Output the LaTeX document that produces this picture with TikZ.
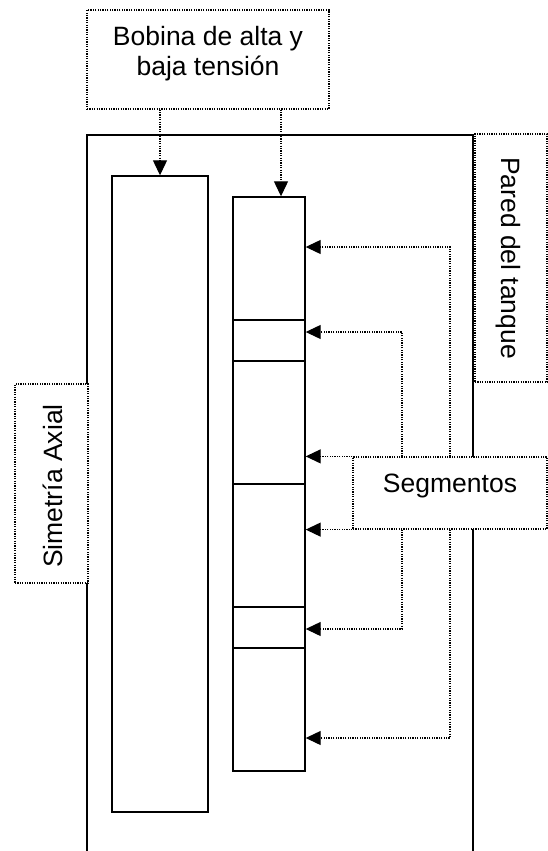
\documentclass[tikz,border=0pt]{standalone}
\usepackage{fontspec}
\setmainfont{Liberation Sans}
\usetikzlibrary{arrows.meta,calc}
\begin{document}
\begin{tikzpicture}[x=1pt,y=-1pt,
  solidbox/.style={draw,line width=1.4pt,fill=white,inner sep=0pt},
  dotbox/.style={draw,line width=1.2pt,dash pattern=on 1.2pt off 1.2pt,fill=white,inner sep=0pt},
  conn/.style={line width=1.2pt,dash pattern=on 1.2pt off 1.2pt,-{Triangle[length=15pt,width=14pt]}},
  lbl/.style={font=\fontsize{26.5}{30}\selectfont,inner sep=0pt},
  wall/.style={line width=1.4pt}]
\useasboundingbox (0,0) rectangle (548,851);
% tank wall
\coordinate (tbl) at (87,851);
\coordinate (ttl) at (87,135);
\coordinate (ttr) at (473,135);
\coordinate (tbr) at (473,851);
\draw[wall] (tbl) -- (ttl) -- (ttr) -- (tbr);
% coils
\node[solidbox,minimum width=96pt,minimum height=636pt] (coilA) at (160,494) {};
\node[solidbox,minimum width=72pt,minimum height=574pt] (coilB) at (269,484) {};
\coordinate (s1) at (0,320);
\coordinate (s2) at (0,361);
\coordinate (s3) at (0,484);
\coordinate (s4) at (0,607);
\coordinate (s5) at (0,648);
\foreach \s in {s1,s2,s3,s4,s5}
  \draw[wall] (coilB.west |- \s) -- (coilB.east |- \s);
% label boxes
\node[dotbox,minimum width=242pt,minimum height=99pt] (bobina) at (208,59.5) {};
\node[lbl,align=center] (tbob) at (208,54) {Bobina de alta y\\baja tensión};
\node[dotbox,minimum width=72pt,minimum height=248pt] (pared) at (511,258) {};
\node[lbl,rotate=-90,anchor=base] (tpar) at (501,258) {Pared del tanque};
\node[dotbox,minimum width=73pt,minimum height=199pt] (sim) at (51.5,483.5) {};
\node[lbl,rotate=90,anchor=base] (tsim) at (62,486) {Simetría Axial};
\node[dotbox,minimum width=194pt,minimum height=72pt] (segm) at (450,493) {};
\node[lbl,anchor=base] (tseg) at (450,492) {Segmentos};
% connectors from Bobina
\coordinate (aB) at (281,0);
\draw[conn] (bobina.south -| coilA.north) -- (coilA.north);
\draw[conn] (bobina.south -| aB) -- (coilB.north -| aB);
% connectors from Segmentos
\coordinate (v1) at (450,0);
\coordinate (v2) at (402,0);
\coordinate (h1) at (0,247);
\coordinate (h2) at (0,332);
\coordinate (h5) at (0,629);
\coordinate (h6) at (0,738);
\draw[conn] (segm.north -| v1) |- (coilB.east |- h1);
\draw[conn] (segm.north -| v2) |- (coilB.east |- h2);
\draw[conn] (segm.north west) -- (coilB.east |- segm.north west);
\draw[conn] (segm.south west) -- (coilB.east |- segm.south west);
\draw[conn] (segm.south -| v2) |- (coilB.east |- h5);
\draw[conn] (segm.south -| v1) |- (coilB.east |- h6);
\end{tikzpicture}
\end{document}
